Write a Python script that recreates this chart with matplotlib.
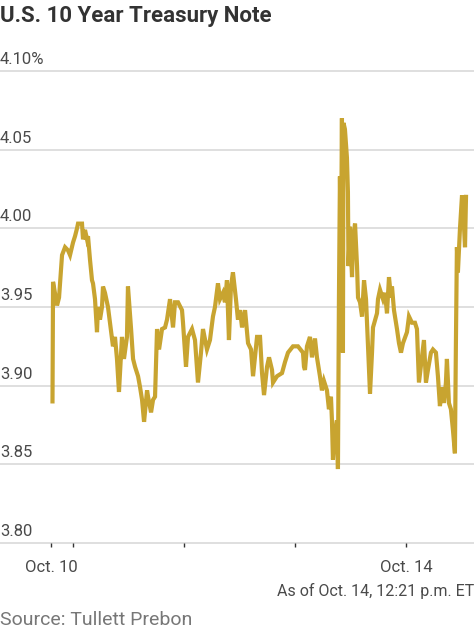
import matplotlib
matplotlib.use("Agg")
import matplotlib.pyplot as plt
import matplotlib.transforms as mtransforms

# ---- data: position in trading-day units (Oct. 11 = 1, Oct. 14 = 4) and yield (%) ----
days = [0.815, 0.820, 0.856, 0.874, 0.901, 0.928, 0.955, 0.973, 1.000, 1.018, 1.036, 1.045,
        1.081, 1.090, 1.108, 1.126, 1.135, 1.153, 1.171, 1.180, 1.198, 1.216, 1.225, 1.243,
        1.261, 1.270, 1.288, 1.315, 1.333, 1.360, 1.378, 1.396, 1.414, 1.441, 1.459, 1.486,
        1.495, 1.523, 1.541, 1.559, 1.586, 1.604, 1.622, 1.640, 1.667, 1.676, 1.703, 1.721,
        1.739, 1.757, 1.775, 1.802, 1.829, 1.847, 1.874, 1.901, 1.919, 1.946, 1.982, 1.991,
        2.018, 2.036, 2.072, 2.099, 2.126, 2.153, 2.171, 2.207, 2.234, 2.261, 2.279, 2.306,
        2.324, 2.351, 2.369, 2.387, 2.405, 2.423, 2.441, 2.468, 2.486, 2.505, 2.523, 2.550,
        2.577, 2.604, 2.622, 2.658, 2.685, 2.703, 2.721, 2.748, 2.766, 2.793, 2.802, 2.838,
        2.883, 2.910, 2.937, 2.982, 3.027, 3.072, 3.081, 3.090, 3.108, 3.135, 3.153, 3.180,
        3.198, 3.225, 3.243, 3.261, 3.288, 3.306, 3.324, 3.333, 3.342, 3.360, 3.378, 3.387,
        3.396, 3.405, 3.414, 3.423, 3.432, 3.437, 3.450, 3.468, 3.477, 3.482, 3.495, 3.514,
        3.523, 3.541, 3.559, 3.568, 3.586, 3.604, 3.622, 3.640, 3.658, 3.676, 3.694, 3.703,
        3.739, 3.748, 3.766, 3.793, 3.811, 3.829, 3.847, 3.865, 3.874, 3.892, 3.919, 3.937,
        3.955, 3.973, 4.009, 4.027, 4.054, 4.081, 4.099, 4.117, 4.144, 4.162, 4.180, 4.198,
        4.225, 4.243, 4.270, 4.288, 4.306, 4.324, 4.342, 4.360, 4.369, 4.387, 4.405, 4.423,
        4.441, 4.450, 4.459, 4.468, 4.486, 4.505, 4.514, 4.532, 4.541]
yields = [3.890, 3.966, 3.951, 3.956, 3.983, 3.988, 3.986, 3.983, 3.991, 3.995, 4.000, 4.003,
          4.003, 3.993, 3.999, 3.993, 3.995, 3.980, 3.967, 3.965, 3.955, 3.934, 3.950, 3.942,
          3.950, 3.963, 3.959, 3.950, 3.940, 3.925, 3.931, 3.917, 3.896, 3.931, 3.917, 3.931,
          3.963, 3.936, 3.917, 3.912, 3.906, 3.899, 3.891, 3.877, 3.897, 3.893, 3.883, 3.891,
          3.893, 3.936, 3.923, 3.936, 3.937, 3.942, 3.955, 3.937, 3.953, 3.953, 3.948, 3.940,
          3.912, 3.931, 3.936, 3.929, 3.902, 3.921, 3.936, 3.923, 3.929, 3.944, 3.950, 3.965,
          3.955, 3.959, 3.953, 3.967, 3.929, 3.963, 3.972, 3.955, 3.942, 3.948, 3.937, 3.948,
          3.927, 3.923, 3.906, 3.931, 3.931, 3.908, 3.894, 3.912, 3.918, 3.910, 3.902, 3.906,
          3.908, 3.915, 3.921, 3.925, 3.925, 3.921, 3.912, 3.910, 3.925, 3.931, 3.918, 3.930,
          3.918, 3.906, 3.897, 3.903, 3.897, 3.885, 3.893, 3.878, 3.853, 3.870, 3.878, 3.847,
          3.955, 4.033, 3.978, 4.070, 3.921, 4.067, 4.063, 4.045, 4.023, 3.976, 4.001, 3.969,
          3.993, 4.003, 3.976, 3.956, 3.953, 3.944, 3.967, 3.955, 3.925, 3.895, 3.921, 3.937,
          3.946, 3.955, 3.961, 3.955, 3.959, 3.946, 3.969, 3.956, 3.963, 3.948, 3.936, 3.927,
          3.921, 3.927, 3.934, 3.944, 3.940, 3.940, 3.936, 3.902, 3.918, 3.929, 3.902, 3.910,
          3.921, 3.923, 3.921, 3.906, 3.887, 3.899, 3.889, 3.902, 3.917, 3.889, 3.885, 3.872,
          3.857, 3.927, 3.988, 3.972, 3.999, 4.021, 4.014, 3.988, 4.020]

y_ticks = [4.10, 4.05, 4.00, 3.95, 3.90, 3.85, 3.80]
y_labels = ["4.10%", "4.05", "4.00", "3.95", "3.90", "3.85", "3.80"]
x_ticks = [0.802, 1.0, 2.0, 3.0, 4.0]
x_labels = ["Oct. 10", "", "", "", "Oct. 14"]

title = "U.S. 10 Year Treasury Note"
note = "As of Oct. 14, 12:21 p.m. ET"
source = "Source: Tullett Prebon"

LINE = "#c8a430"
GRID = "#dcdcdc"
TXT = "#4a4a4a"

plt.rcParams["font.family"] = ["Roboto", "DejaVu Sans"]

fig = plt.figure(figsize=(4.74, 6.32), dpi=100)
ax = fig.add_axes([0.0, 1 - 543 / 632, 1.0, (543 - 71) / 632])
ax.set_xlim(0.342, 4.613)
ax.set_ylim(3.80, 4.10)

for v in y_ticks:
    ax.axhline(v, color=GRID, lw=1.3, zorder=1, clip_on=False)

trans = mtransforms.blended_transform_factory(ax.transAxes, ax.transData)
for v, lab in zip(y_ticks, y_labels):
    ax.annotate(lab, xy=(0, v), xycoords=trans, xytext=(0, 3), textcoords="offset points",
                ha="left", va="bottom", fontsize=12, color=TXT)

ax.plot(days, yields, color=LINE, lw=3.0, zorder=3, solid_joinstyle="miter")

for s in ax.spines.values():
    s.set_visible(False)
ax.set_yticks([])
ax.set_xticks(x_ticks)
ax.set_xticklabels(x_labels)
ax.tick_params(axis="x", direction="out", length=3, width=1.0, color="#333333",
               pad=9, labelsize=12, labelcolor=TXT)

fig.text(0.0, 1 - 16 / 632, title, ha="left", va="center", fontsize=16,
         fontweight="bold", color="#333333")
fig.text(1.0, 1 - 591 / 632, note, ha="right", va="center", fontsize=11.5, color=TXT)
fig.text(0.0, 1 - 620 / 632, source, ha="left", va="center", fontsize=14, color="#777777")

fig.savefig("out.png", dpi=100)
